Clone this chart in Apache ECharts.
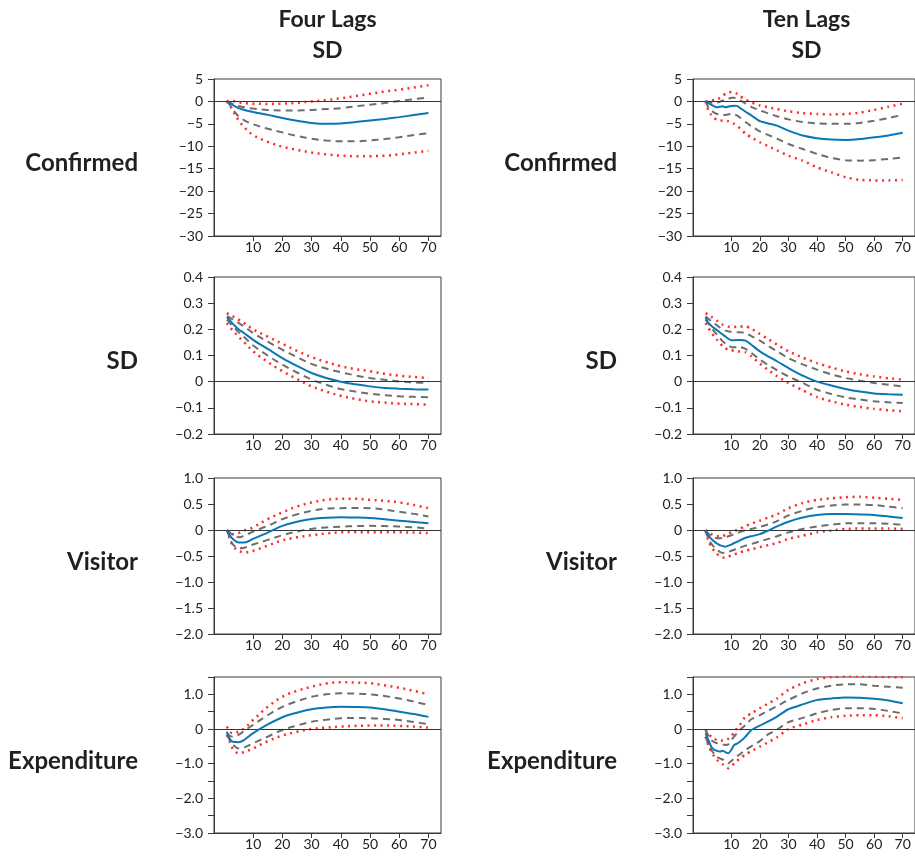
<!DOCTYPE html>
<html><head><meta charset="utf-8">
<script src="https://cdn.jsdelivr.net/npm/echarts@6.0.0/dist/echarts.min.js"></script>
<style>html,body{margin:0;padding:0;background:#fff}#c{width:915px;height:859px}</style>
</head><body><div id="c"></div><script>
// ---------- text ----------
const colTitles = ['Four Lags', 'Ten Lags'];
const colSubtitle = 'SD';
const rowLabels = ['Confirmed', 'SD', 'Visitor', 'Expenditure'];
const xTickValues = [10, 20, 30, 40, 50, 60, 70];

// ---------- horizons ----------
const x4  = [1, 2, 3, 5, 7, 10, 15, 20, 25, 30, 35, 40, 45, 50, 55, 60, 65, 70];
const x10 = [1, 2, 3, 4, 5, 6, 7, 8, 9, 10, 11, 12, 13, 15, 17, 20, 23, 26, 30, 35, 40, 45, 50, 55, 60, 65, 70];

// ---------- Four Lags ----------
const fourConfEst     = [0, -0.3, -0.8, -1.5, -1.9, -2.35, -3.0, -3.7, -4.3, -4.8, -5.0, -4.9, -4.6, -4.25, -3.9, -3.5, -3.05, -2.6];
const fourConfInHi    = [0, -0.3, -0.6, -1.0, -1.3, -1.6, -1.9, -2.0, -2.0, -1.9, -1.7, -1.5, -1.1, -0.75, -0.35, 0.1, 0.5, 0.9];
const fourConfInLo    = [0, -0.8, -1.8, -3.3, -4.2, -5.1, -6.1, -6.9, -7.7, -8.3, -8.7, -8.9, -8.9, -8.7, -8.4, -8.0, -7.5, -7.1];
const fourConfOutHi   = [0, 0.2, 0.1, -0.2, -0.4, -0.5, -0.55, -0.5, -0.3, 0, 0.3, 0.7, 1.2, 1.7, 2.2, 2.6, 3.1, 3.6];
const fourConfOutLo   = [0, -0.8, -2.0, -4.2, -5.8, -7.5, -9.0, -10.1, -10.8, -11.4, -11.8, -12.1, -12.2, -12.2, -12.1, -11.8, -11.4, -11.0];

const fourSdEst       = [0.246, 0.235, 0.222, 0.2, 0.185, 0.16, 0.125, 0.09, 0.06, 0.033, 0.014, 0, -0.01, -0.018, -0.024, -0.027, -0.029, -0.03];
const fourSdInHi      = [0.25, 0.245, 0.238, 0.225, 0.21, 0.186, 0.153, 0.122, 0.094, 0.068, 0.05, 0.036, 0.024, 0.014, 0.007, 0.001, -0.003, -0.005];
const fourSdInLo      = [0.237, 0.225, 0.212, 0.19, 0.17, 0.138, 0.1, 0.065, 0.035, 0.008, -0.012, -0.028, -0.038, -0.046, -0.052, -0.056, -0.058, -0.06];
const fourSdOutHi     = [0.262, 0.256, 0.25, 0.237, 0.223, 0.2, 0.172, 0.145, 0.118, 0.094, 0.075, 0.059, 0.048, 0.04, 0.03, 0.023, 0.018, 0.014];
const fourSdOutLo     = [0.224, 0.21, 0.196, 0.172, 0.15, 0.116, 0.075, 0.04, 0.01, -0.018, -0.038, -0.054, -0.066, -0.075, -0.08, -0.084, -0.086, -0.088];

const fourVisEst      = [0, -0.1, -0.17, -0.24, -0.24, -0.17, -0.05, 0.08, 0.16, 0.21, 0.235, 0.245, 0.24, 0.23, 0.205, 0.18, 0.155, 0.13];
const fourVisInHi     = [0, -0.05, -0.09, -0.14, -0.11, -0.03, 0.08, 0.21, 0.3, 0.37, 0.41, 0.42, 0.425, 0.42, 0.39, 0.35, 0.31, 0.26];
const fourVisInLo     = [0, -0.15, -0.27, -0.35, -0.34, -0.28, -0.19, -0.1, -0.03, 0.02, 0.05, 0.065, 0.075, 0.08, 0.075, 0.065, 0.05, 0.03];
const fourVisOutHi    = [0, -0.05, -0.08, -0.06, -0.01, 0.05, 0.21, 0.34, 0.45, 0.53, 0.58, 0.6, 0.6, 0.58, 0.56, 0.53, 0.48, 0.42];
const fourVisOutLo    = [0, -0.17, -0.3, -0.4, -0.43, -0.4, -0.3, -0.2, -0.14, -0.1, -0.065, -0.045, -0.04, -0.045, -0.045, -0.045, -0.05, -0.06];

const fourExpEst      = [-0.08, -0.29, -0.37, -0.38, -0.31, -0.12, 0.13, 0.34, 0.47, 0.57, 0.62, 0.64, 0.635, 0.62, 0.57, 0.5, 0.43, 0.35];
const fourExpInHi     = [-0.12, -0.2, -0.22, -0.17, -0.05, 0.12, 0.4, 0.64, 0.8, 0.93, 1.0, 1.03, 1.02, 1.0, 0.95, 0.88, 0.79, 0.69];
const fourExpInLo     = [-0.17, -0.32, -0.44, -0.56, -0.53, -0.41, -0.22, -0.03, 0.1, 0.21, 0.27, 0.31, 0.315, 0.31, 0.29, 0.26, 0.2, 0.14];
const fourExpOutHi    = [0.07, -0.08, -0.12, -0.08, 0.02, 0.26, 0.64, 0.93, 1.1, 1.22, 1.31, 1.35, 1.34, 1.32, 1.26, 1.19, 1.1, 1.0];
const fourExpOutLo    = [-0.17, -0.38, -0.56, -0.7, -0.66, -0.56, -0.35, -0.19, -0.08, 0, 0.04, 0.07, 0.09, 0.1, 0.1, 0.09, 0.07, 0.04];

// ---------- Ten Lags ----------
const tenConfEst      = [0, -0.4, -0.75, -1.1, -1.3, -1.2, -1.1, -1.3, -1.15, -1.0, -0.95, -1.0, -1.4, -2.3, -3.1, -4.4, -4.9, -5.4, -6.5, -7.6, -8.2, -8.5, -8.6, -8.4, -8.0, -7.6, -7.0];
const tenConfInHi     = [0, -0.2, -0.3, -0.3, -0.3, -0.1, 0.2, 0.4, 0.6, 0.8, 0.8, 0.7, 0.3, -0.5, -1.2, -2.0, -2.7, -3.3, -4.0, -4.6, -4.9, -5.0, -5.0, -4.8, -4.3, -3.7, -3.0];
const tenConfInLo     = [0, -1.3, -2.0, -2.5, -2.8, -2.9, -3.0, -3.0, -2.9, -2.8, -2.9, -3.1, -3.6, -4.6, -5.5, -6.7, -7.5, -8.3, -9.5, -10.6, -11.7, -12.6, -13.1, -13.2, -13.1, -12.8, -12.5];
const tenConfOutHi    = [0, 0.1, 0.2, 0.3, 0.45, 0.8, 1.3, 1.7, 2.0, 2.1, 2.0, 1.7, 1.2, 0.4, -0.2, -0.9, -1.3, -1.7, -2.2, -2.6, -2.8, -2.9, -2.8, -2.5, -1.9, -1.2, -0.5];
const tenConfOutLo    = [0, -2.0, -3.0, -3.7, -4.1, -4.2, -4.3, -4.3, -4.4, -4.6, -5.0, -5.4, -6.0, -7.2, -8.0, -9.1, -10.0, -10.9, -12.1, -13.2, -14.7, -15.8, -16.9, -17.5, -17.6, -17.6, -17.5];

const tenSdEst        = [0.246, 0.224, 0.214, 0.205, 0.197, 0.188, 0.18, 0.172, 0.164, 0.158, 0.158, 0.159, 0.159, 0.157, 0.141, 0.116, 0.096, 0.078, 0.052, 0.023, 0, -0.015, -0.028, -0.038, -0.045, -0.048, -0.05];
const tenSdInHi       = [0.25, 0.24, 0.232, 0.224, 0.215, 0.207, 0.199, 0.195, 0.192, 0.191, 0.19, 0.189, 0.189, 0.186, 0.174, 0.157, 0.136, 0.116, 0.09, 0.066, 0.046, 0.028, 0.014, 0.004, -0.005, -0.012, -0.018];
const tenSdInLo       = [0.237, 0.222, 0.207, 0.192, 0.18, 0.167, 0.154, 0.145, 0.138, 0.132, 0.132, 0.132, 0.132, 0.125, 0.11, 0.084, 0.063, 0.044, 0.02, -0.005, -0.031, -0.047, -0.06, -0.068, -0.075, -0.079, -0.082];
const tenSdOutHi      = [0.262, 0.255, 0.248, 0.24, 0.233, 0.225, 0.218, 0.213, 0.21, 0.209, 0.209, 0.21, 0.211, 0.211, 0.203, 0.182, 0.162, 0.142, 0.116, 0.092, 0.071, 0.054, 0.039, 0.028, 0.02, 0.013, 0.008];
const tenSdOutLo      = [0.224, 0.205, 0.188, 0.173, 0.16, 0.147, 0.135, 0.127, 0.122, 0.12, 0.118, 0.116, 0.115, 0.112, 0.097, 0.069, 0.044, 0.021, -0.005, -0.033, -0.059, -0.075, -0.088, -0.097, -0.104, -0.109, -0.113];

const tenVisEst       = [-0.01, -0.11, -0.17, -0.22, -0.26, -0.29, -0.31, -0.32, -0.3, -0.28, -0.25, -0.23, -0.2, -0.15, -0.12, -0.08, -0.01, 0.07, 0.16, 0.24, 0.29, 0.31, 0.31, 0.3, 0.29, 0.26, 0.23];
const tenVisInHi      = [-0.01, -0.07, -0.11, -0.14, -0.16, -0.16, -0.15, -0.14, -0.12, -0.1, -0.08, -0.06, -0.04, 0, 0.02, 0.06, 0.11, 0.17, 0.28, 0.37, 0.44, 0.47, 0.49, 0.49, 0.48, 0.45, 0.42];
const tenVisInLo      = [-0.01, -0.17, -0.26, -0.33, -0.38, -0.42, -0.44, -0.43, -0.42, -0.4, -0.38, -0.36, -0.34, -0.3, -0.27, -0.22, -0.17, -0.12, -0.045, 0.02, 0.07, 0.1, 0.13, 0.13, 0.13, 0.12, 0.1];
const tenVisOutHi     = [0, -0.05, -0.08, -0.1, -0.12, -0.12, -0.11, -0.1, -0.07, -0.04, -0.02, 0, 0.02, 0.08, 0.12, 0.18, 0.24, 0.3, 0.42, 0.52, 0.58, 0.61, 0.63, 0.64, 0.62, 0.6, 0.58];
const tenVisOutLo     = [-0.02, -0.21, -0.32, -0.4, -0.46, -0.5, -0.53, -0.53, -0.51, -0.49, -0.47, -0.45, -0.43, -0.4, -0.37, -0.33, -0.29, -0.25, -0.17, -0.11, -0.045, -0.01, 0.02, 0.03, 0.03, 0.03, 0.02];

const tenExpEst       = [-0.12, -0.32, -0.51, -0.6, -0.63, -0.65, -0.63, -0.67, -0.7, -0.6, -0.46, -0.42, -0.37, -0.22, -0.03, 0.1, 0.22, 0.36, 0.57, 0.71, 0.84, 0.88, 0.91, 0.9, 0.87, 0.82, 0.74];
const tenExpInHi      = [-0.03, -0.2, -0.32, -0.38, -0.41, -0.43, -0.45, -0.46, -0.44, -0.32, -0.22, -0.12, -0.03, 0.12, 0.28, 0.4, 0.53, 0.66, 0.84, 1.03, 1.17, 1.25, 1.29, 1.29, 1.25, 1.22, 1.19];
const tenExpInLo      = [-0.22, -0.45, -0.6, -0.72, -0.8, -0.85, -0.88, -0.93, -0.99, -0.92, -0.85, -0.79, -0.73, -0.6, -0.5, -0.35, -0.15, -0.02, 0.2, 0.32, 0.45, 0.55, 0.6, 0.6, 0.58, 0.52, 0.45];
const tenExpOutHi     = [-0.03, -0.15, -0.22, -0.28, -0.32, -0.33, -0.33, -0.32, -0.28, -0.22, -0.1, 0.02, 0.12, 0.36, 0.45, 0.6, 0.74, 0.88, 1.13, 1.32, 1.44, 1.5, 1.52, 1.52, 1.51, 1.5, 1.49];
const tenExpOutLo     = [-0.22, -0.48, -0.65, -0.79, -0.89, -0.96, -1.02, -1.08, -1.13, -1.08, -0.99, -0.92, -0.85, -0.73, -0.64, -0.51, -0.38, -0.24, 0, 0.13, 0.26, 0.34, 0.38, 0.4, 0.4, 0.37, 0.31];

// ---------- axis scales per row ----------
const rowYMin      = [-30, -0.2, -2, -3];
const rowYMax      = [5, 0.4, 1, 1.5];
const rowYInterval = [5, 0.1, 0.5, 0.5];
const rowYDecimals = [0, 1, 1, 1];

// ---------- assemble ----------
const panels = [
  [x4, [fourConfEst, fourConfInHi, fourConfInLo, fourConfOutHi, fourConfOutLo]],
  [x4, [fourSdEst, fourSdInHi, fourSdInLo, fourSdOutHi, fourSdOutLo]],
  [x4, [fourVisEst, fourVisInHi, fourVisInLo, fourVisOutHi, fourVisOutLo]],
  [x4, [fourExpEst, fourExpInHi, fourExpInLo, fourExpOutHi, fourExpOutLo]],
  [x10, [tenConfEst, tenConfInHi, tenConfInLo, tenConfOutHi, tenConfOutLo]],
  [x10, [tenSdEst, tenSdInHi, tenSdInLo, tenSdOutHi, tenSdOutLo]],
  [x10, [tenVisEst, tenVisInHi, tenVisInLo, tenVisOutHi, tenVisOutLo]],
  [x10, [tenExpEst, tenExpInHi, tenExpInLo, tenExpOutHi, tenExpOutLo]]
];

const FONT = 'Lato, "Open Sans", sans-serif';
const colLeft = [214, 693];
const gridW = 227;
const rowTop = [79, 277, 478, 677];
const rowH = [157, 157, 156, 156];

function fmt(v, d, row) {
  if (Math.abs(v) < 1e-9) return '0';
  if (row === 3 && Math.abs(v - Math.round(v)) > 1e-9) return '';
  return (v < 0 ? '\u2212' : '') + Math.abs(v).toFixed(d);
}

const grids = [], xAxes = [], yAxes = [], series = [], graphics = [];
const lineStyleFor = k => {
  if (k === 0) return {color: '#0a76b6', width: 2, type: 'solid'};
  if (k === 1 || k === 2) return {color: '#6d6d6d', width: 2, type: [7, 5]};
  return {color: '#ff2a2a', width: 2.5, type: [2, 4.5], cap: 'butt'};
};
const zOrder = [5, 3, 3, 2, 2];

for (let c = 0; c < 2; c++) {
  graphics.push({type: 'text', x: colLeft[c] + gridW / 2, y: 20,
    style: {text: colTitles[c], font: 'bold 23px ' + FONT, fill: '#231f20', textAlign: 'center', textVerticalAlign: 'middle'}});
  graphics.push({type: 'text', x: colLeft[c] + gridW / 2, y: 51,
    style: {text: colSubtitle, font: 'bold 23px ' + FONT, fill: '#231f20', textAlign: 'center', textVerticalAlign: 'middle'}});
  for (let r = 0; r < 4; r++) {
    const i = c * 4 + r;
    grids.push({left: colLeft[c], top: rowTop[r], width: gridW, height: rowH[r],
      show: true, borderColor: '#3a3a3a', borderWidth: 1, backgroundColor: 'transparent'});
    xAxes.push({gridIndex: i, type: 'value', min: -3.4, max: 74.3,
      splitLine: {show: false},
      axisLine: {show: true, onZero: false, lineStyle: {color: '#3a3a3a', width: 1}},
      axisTick: {show: true, customValues: xTickValues, length: 5, lineStyle: {color: '#3a3a3a'}},
      axisLabel: {show: true, customValues: xTickValues, margin: 4, fontSize: 14, color: '#222', fontFamily: FONT}});
    yAxes.push({gridIndex: i, type: 'value', min: rowYMin[r], max: rowYMax[r], interval: rowYInterval[r],
      splitLine: {show: false},
      axisLine: {show: true, onZero: false, lineStyle: {color: '#3a3a3a', width: 1}},
      axisTick: {show: true, length: 6, lineStyle: {color: '#3a3a3a'}},
      axisLabel: {show: true, margin: 11, fontSize: 14, color: '#222', fontFamily: FONT,
        formatter: v => fmt(v, rowYDecimals[r], r)}});
    graphics.push({type: 'text', x: colLeft[c] - 76, y: rowTop[r] + rowH[r] / 2 + 6,
      style: {text: rowLabels[r], font: 'bold 24px ' + FONT, fill: '#231f20', textAlign: 'right', textVerticalAlign: 'middle'}});

    const xs = panels[i][0];
    const ys = panels[i][1];
    [3, 4, 1, 2, 0].forEach((k, n) => {
      const s = {type: 'line', xAxisIndex: i, yAxisIndex: i, symbol: 'none',
        smooth: c === 0 ? 0.35 : 0.2, clip: true, z: zOrder[k],
        lineStyle: lineStyleFor(k),
        data: xs.map((x, j) => [x, ys[k][j]])};
      if (n === 0) {
        s.markLine = {silent: true, symbol: 'none', label: {show: false}, animation: false,
          lineStyle: {color: '#333', width: 1, type: 'solid'}, data: [{yAxis: 0}]};
      }
      series.push(s);
    });
  }
}

const chart = echarts.init(document.getElementById('c'), null, {renderer: 'canvas'});
chart.setOption({
  animation: false,
  backgroundColor: '#fff',
  grid: grids, xAxis: xAxes, yAxis: yAxes, series: series,
  graphic: graphics
});
</script></body></html>
